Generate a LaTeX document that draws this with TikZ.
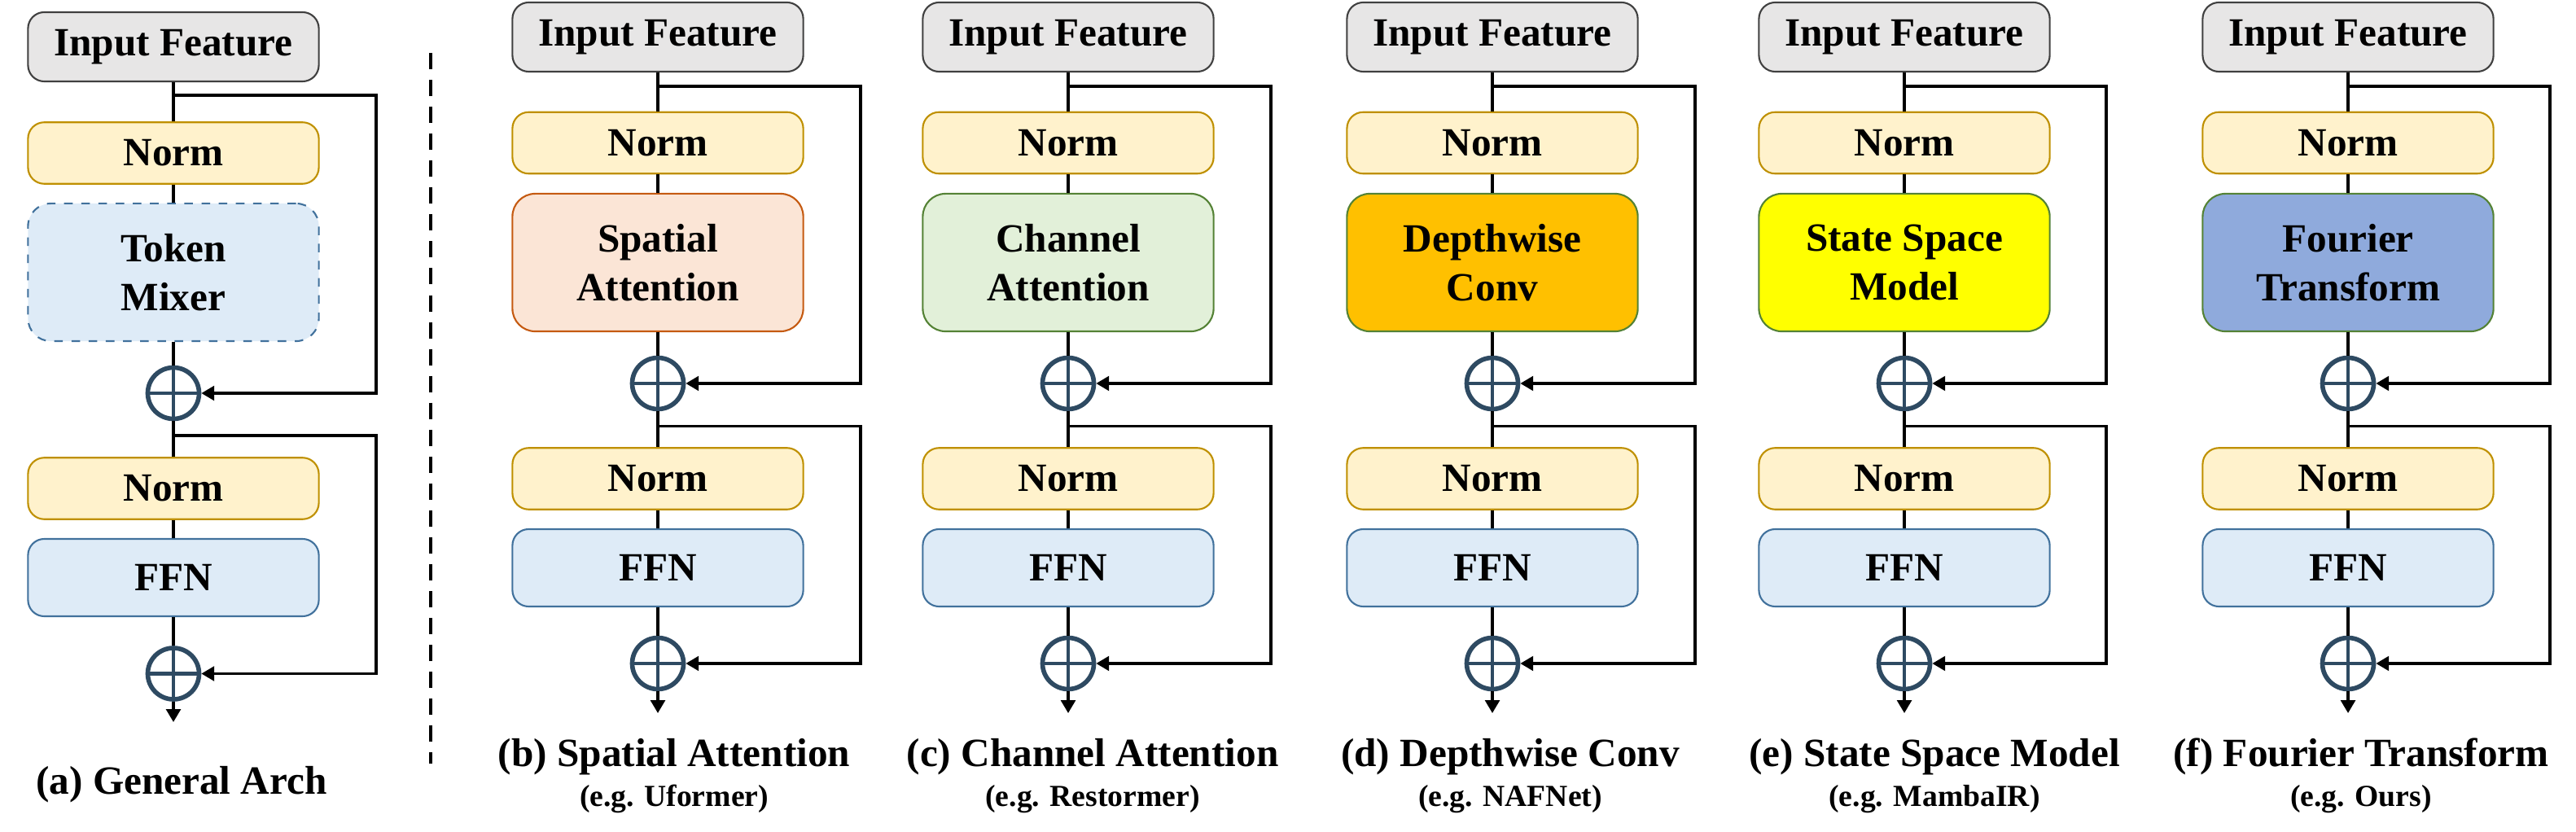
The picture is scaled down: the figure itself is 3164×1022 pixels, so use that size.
\documentclass[tikz,border=0pt]{standalone}
\usepackage{fontspec}
\setmainfont{Liberation Serif}[BoldFont={Liberation Serif Bold}]
\usetikzlibrary{arrows.meta}

\definecolor{ingray}{HTML}{E7E6E6}
\definecolor{inedge}{HTML}{404040}
\definecolor{normfill}{HTML}{FFF2CC}
\definecolor{normedge}{HTML}{BF9000}
\definecolor{ffnfill}{HTML}{DEEBF7}
\definecolor{ffnedge}{HTML}{41719C}
\definecolor{spatfill}{HTML}{FBE5D6}
\definecolor{spatedge}{HTML}{C55A11}
\definecolor{chanfill}{HTML}{E2F0D9}
\definecolor{greenedge}{HTML}{548235}
\definecolor{dwfill}{HTML}{FFC000}
\definecolor{ssmfill}{HTML}{FFFF00}
\definecolor{fourfill}{HTML}{8FAADC}
\definecolor{addcol}{HTML}{2E4A62}

\tikzset{
  block/.style={draw, rounded corners=0.2cm, minimum width=3.57cm, inner sep=0pt,
    line width=0.6pt, align=center, font=\fontsize{14}{17}\selectfont\bfseries},
  inbox/.style={block, fill=ingray, draw=inedge, minimum height=0.85cm},
  normbox/.style={block, fill=normfill, draw=normedge, minimum height=0.755cm},
  ffnbox/.style={block, fill=ffnfill, draw=ffnedge, minimum height=0.95cm},
  mixbox/.style={block, rounded corners=0.28cm, minimum height=1.69cm},
  addop/.style={circle, draw=addcol, fill=white, line width=1.6pt, minimum size=0.63cm,
    inner sep=0pt, path picture={
      \draw[addcol, line width=1.2pt] (path picture bounding box.north) -- (path picture bounding box.south)
        (path picture bounding box.west) -- (path picture bounding box.east);}},
  wire/.style={line width=1pt},
  outwire/.style={wire, -{Triangle[length=4.5pt,width=5pt]}},
  skipwire/.style={line width=1pt, -{Triangle[length=4.5pt,width=5pt]}},
  capt/.style={anchor=base, font=\fontsize{14}{17}\selectfont\bfseries},
  subcapt/.style={anchor=base, font=\fontsize{10.7}{13}\selectfont\bfseries},
  sepline/.style={line width=1.3pt, dash pattern=on 5.7pt off 3.7pt}
}

\begin{document}
\begin{tikzpicture}[x=0.01cm, y=-0.01cm]
\useasboundingbox (0,0) rectangle (3164,1022);

% (a) General Arch
\node[inbox] (inA) at (213,57.5) {Input Feature};
\node[normbox] (normA1) at (213,188) {Norm};
\node[mixbox, fill=ffnfill, draw=ffnedge, dashed] (mixA) at (213,334.5) {Token\\Mixer};
\node[addop] (addA1) at (213,483) {};
\node[normbox] (normA2) at (213,600) {Norm};
\node[ffnbox] (ffnA) at (213,709.5) {FFN};
\node[addop] (addA2) at (213,827.5) {};
\coordinate (outA) at (213,887);
\coordinate (skipA1) at (462,117);
\coordinate (skipA2) at (462,535);
\draw[wire] (inA) -- (normA1) -- (mixA) -- (addA1) -- (normA2) -- (ffnA) -- (addA2);
\draw[outwire] (addA2) -- (outA);
\draw[skipwire] (inA |- skipA1) -- (skipA1) |- (addA1.east);
\draw[skipwire] (addA1 |- skipA2) -- (skipA2) |- (addA2.east);
\node[capt] (capA) at (223,975) {(a) General Arch};

% separator
\draw[sepline] (529,65) -- (529,938);

% (b) Spatial Attention
\node[inbox] (inB) at (808,45.5) {Input Feature};
\node[normbox] (normB1) at (808,175.5) {Norm};
\node[mixbox, fill=spatfill, draw=spatedge] (mixB) at (808,322.5) {Spatial\\Attention};
\node[addop] (addB1) at (808,471) {};
\node[normbox] (normB2) at (808,588) {Norm};
\node[ffnbox] (ffnB) at (808,697.5) {FFN};
\node[addop] (addB2) at (808,815) {};
\coordinate (outB) at (808,876);
\coordinate (skipB1) at (1057,106);
\coordinate (skipB2) at (1057,523.5);
\draw[wire] (inB) -- (normB1) -- (mixB) -- (addB1) -- (normB2) -- (ffnB) -- (addB2);
\draw[outwire] (addB2) -- (outB);
\draw[skipwire] (inB |- skipB1) -- (skipB1) |- (addB1.east);
\draw[skipwire] (addB1 |- skipB2) -- (skipB2) |- (addB2.east);
\node[capt] (capB) at (828,941.5) {(b) Spatial Attention};
\node[subcapt] (subB) at (828,990) {(e.g. Uformer)};

% (c) Channel Attention
\node[inbox] (inC) at (1312,45.5) {Input Feature};
\node[normbox] (normC1) at (1312,175.5) {Norm};
\node[mixbox, fill=chanfill, draw=greenedge] (mixC) at (1312,322.5) {Channel\\Attention};
\node[addop] (addC1) at (1312,471) {};
\node[normbox] (normC2) at (1312,588) {Norm};
\node[ffnbox] (ffnC) at (1312,697.5) {FFN};
\node[addop] (addC2) at (1312,815) {};
\coordinate (outC) at (1312,876);
\coordinate (skipC1) at (1561,106);
\coordinate (skipC2) at (1561,523.5);
\draw[wire] (inC) -- (normC1) -- (mixC) -- (addC1) -- (normC2) -- (ffnC) -- (addC2);
\draw[outwire] (addC2) -- (outC);
\draw[skipwire] (inC |- skipC1) -- (skipC1) |- (addC1.east);
\draw[skipwire] (addC1 |- skipC2) -- (skipC2) |- (addC2.east);
\node[capt] (capC) at (1342,941.5) {(c) Channel Attention};
\node[subcapt] (subC) at (1342,990) {(e.g. Restormer)};

% (d) Depthwise Conv
\node[inbox] (inD) at (1833,45.5) {Input Feature};
\node[normbox] (normD1) at (1833,175.5) {Norm};
\node[mixbox, fill=dwfill, draw=greenedge] (mixD) at (1833,322.5) {Depthwise\\Conv};
\node[addop] (addD1) at (1833,471) {};
\node[normbox] (normD2) at (1833,588) {Norm};
\node[ffnbox] (ffnD) at (1833,697.5) {FFN};
\node[addop] (addD2) at (1833,815) {};
\coordinate (outD) at (1833,876);
\coordinate (skipD1) at (2082,106);
\coordinate (skipD2) at (2082,523.5);
\draw[wire] (inD) -- (normD1) -- (mixD) -- (addD1) -- (normD2) -- (ffnD) -- (addD2);
\draw[outwire] (addD2) -- (outD);
\draw[skipwire] (inD |- skipD1) -- (skipD1) |- (addD1.east);
\draw[skipwire] (addD1 |- skipD2) -- (skipD2) |- (addD2.east);
\node[capt] (capD) at (1855,941.5) {(d) Depthwise Conv};
\node[subcapt] (subD) at (1855,990) {(e.g. NAFNet)};

% (e) State Space Model
\node[inbox] (inE) at (2339,45.5) {Input Feature};
\node[normbox] (normE1) at (2339,175.5) {Norm};
\node[mixbox, fill=ssmfill, draw=greenedge] (mixE) at (2339,322.5) {State Space\\Model};
\node[addop] (addE1) at (2339,471) {};
\node[normbox] (normE2) at (2339,588) {Norm};
\node[ffnbox] (ffnE) at (2339,697.5) {FFN};
\node[addop] (addE2) at (2339,815) {};
\coordinate (outE) at (2339,876);
\coordinate (skipE1) at (2587,106);
\coordinate (skipE2) at (2587,523.5);
\draw[wire] (inE) -- (normE1) -- (mixE) -- (addE1) -- (normE2) -- (ffnE) -- (addE2);
\draw[outwire] (addE2) -- (outE);
\draw[skipwire] (inE |- skipE1) -- (skipE1) |- (addE1.east);
\draw[skipwire] (addE1 |- skipE2) -- (skipE2) |- (addE2.east);
\node[capt] (capE) at (2376,941.5) {(e) State Space Model};
\node[subcapt] (subE) at (2376,990) {(e.g. MambaIR)};

% (f) Fourier Transform
\node[inbox] (inF) at (2884,45.5) {Input Feature};
\node[normbox] (normF1) at (2884,175.5) {Norm};
\node[mixbox, fill=fourfill, draw=greenedge] (mixF) at (2884,322.5) {Fourier\\Transform};
\node[addop] (addF1) at (2884,471) {};
\node[normbox] (normF2) at (2884,588) {Norm};
\node[ffnbox] (ffnF) at (2884,697.5) {FFN};
\node[addop] (addF2) at (2884,815) {};
\coordinate (outF) at (2884,876);
\coordinate (skipF1) at (3132,106);
\coordinate (skipF2) at (3132,523.5);
\draw[wire] (inF) -- (normF1) -- (mixF) -- (addF1) -- (normF2) -- (ffnF) -- (addF2);
\draw[outwire] (addF2) -- (outF);
\draw[skipwire] (inF |- skipF1) -- (skipF1) |- (addF1.east);
\draw[skipwire] (addF1 |- skipF2) -- (skipF2) |- (addF2.east);
\node[capt] (capF) at (2900,941.5) {(f) Fourier Transform};
\node[subcapt] (subF) at (2900,990) {(e.g. Ours)};
\end{tikzpicture}
\end{document}
